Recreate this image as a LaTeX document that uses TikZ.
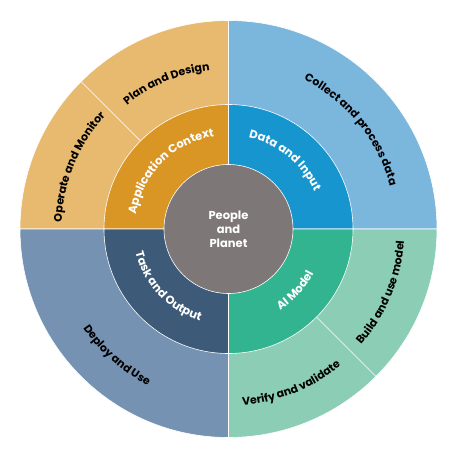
\documentclass[tikz,border=0pt]{standalone}
\usepackage{fontspec}
\setmainfont{Poppins}
\usetikzlibrary{decorations.text}

\definecolor{planLight}{HTML}{E8BA70}
\definecolor{planDark}{HTML}{D99625}
\definecolor{dataLight}{HTML}{7BB6DD}
\definecolor{dataDark}{HTML}{1695CF}
\definecolor{modelLight}{HTML}{8CCDB6}
\definecolor{modelDark}{HTML}{31B48F}
\definecolor{taskLight}{HTML}{7592B3}
\definecolor{taskDark}{HTML}{3D5A78}
\definecolor{hubGrey}{HTML}{7D7877}

\newcommand\outerfont{\fontsize{11}{13}\selectfont\bfseries}
\newcommand\innerfont{\fontsize{11.5}{13}\selectfont\bfseries}

\begin{document}
\begin{tikzpicture}[
  sector/.style={draw=white,line width=0.6pt},
  outtext/.style={decorate,decoration={text along path,text align=center,text color=black,text={|\outerfont|#1}}},
  intext/.style={decorate,decoration={text along path,text align=center,text color=white,text={|\innerfont|#1}}}
]
\useasboundingbox (-228.5pt,-237pt) rectangle (227.5pt,229pt);

% rings: outer stage, inner dimension
\foreach \a/\outc/\inc in {90/planLight/planDark, 0/dataLight/dataDark, -90/modelLight/modelDark, 180/taskLight/taskDark}{
  \filldraw[sector,fill=\outc] (0,0) -- (\a:208.5pt) arc[start angle=\a,end angle=\a+90,radius=208.5pt] -- cycle;
}
\foreach \a/\outc/\inc in {90/planLight/planDark, 0/dataLight/dataDark, -90/modelLight/modelDark, 180/taskLight/taskDark}{
  \filldraw[sector,fill=\inc] (0,0) -- (\a:124.5pt) arc[start angle=\a,end angle=\a+90,radius=124.5pt] -- cycle;
}
\draw[sector] (135:124.5pt) -- (135:208.5pt);
\draw[sector] (-45:124.5pt) -- (-45:208.5pt);

\node[circle,fill=hubGrey,draw=white,line width=0.6pt,minimum size=129pt,inner sep=0pt,
  text=white,align=center,font=\fontsize{11.5}{14}\selectfont\bfseries] (hub) at (0,0) {People\\and\\Planet};

% outer labels
\path[outtext=Operate and Monitor] (200:167pt) arc[start angle=200,end angle=115,radius=167pt];
\path[outtext=Plan and Design] (155:160pt) arc[start angle=155,end angle=71,radius=160pt];
\path[outtext=Collect and process data] (84:167pt) arc[start angle=84,end angle=-6,radius=167pt];
\path[outtext=Deploy and Use] (-176.5:176pt) arc[start angle=-176.5,end angle=-86.5,radius=176pt];
\path[outtext=Verify and validate] (-113:177pt) arc[start angle=-113,end angle=-23,radius=177pt];
\path[outtext=Build and use model] (-67.5:176pt) arc[start angle=-67.5,end angle=22.5,radius=176pt];

% inner labels
\path[intext=Application Context] (195:93.5pt) arc[start angle=195,end angle=75,radius=93.5pt];
\path[intext=Data and Input] (110.5:93.5pt) arc[start angle=110.5,end angle=-9.5,radius=93.5pt];
\path[intext=Task and Output] (-196.5:96pt) arc[start angle=-196.5,end angle=-76.5,radius=96pt];
\path[intext=AI Model] (-102.5:96pt) arc[start angle=-102.5,end angle=17.5,radius=96pt];
\end{tikzpicture}
\end{document}
